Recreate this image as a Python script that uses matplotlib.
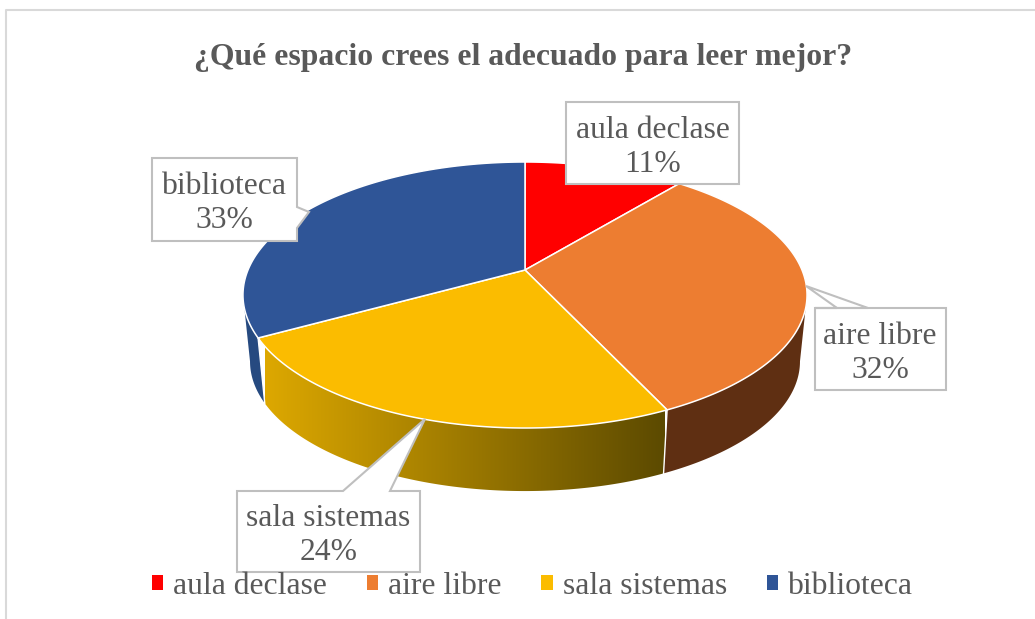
import numpy as np
import matplotlib
matplotlib.use("Agg")
import matplotlib.pyplot as plt
from matplotlib.patches import Patch, Polygon
from matplotlib.colors import LinearSegmentedColormap

plt.rcParams['font.family'] = ['Liberation Serif', 'DejaVu Serif']

categories = ["aula declase", "aire libre", "sala sistemas", "biblioteca"]
values = [11, 32, 24, 33]
title = "¿Qué espacio crees el adecuado para leer mejor?"
top_colors = ["#FF0000", "#ED7D31", "#FBBC00", "#2F5597"]
side_colors = ["#8B0000", "#5F2F12", None, "#264A80"]

TXT = "#595959"
BOX = "#BFBFBF"
FS = 22.8

fig = plt.figure(figsize=(10.35, 6.19), dpi=100)
ax = fig.add_axes([0, 0, 1, 1])
ax.axis("off")

# frame
ax.plot([6, 6, 1035], [619, 10, 10], color="#D9D9D9", lw=1.5, zorder=0)

# perspective projection of the pie
cx, cy, A, B, k = 525, 270, 277, 128.3, 0.188
def top_pt(t):
    X, Y = np.sin(t), np.cos(t)
    d = 1 + k * Y
    return cx + A * X / d, cy - B * Y / d

def bot_pt(t, s=0.975, d0=67):
    x, y = top_pt(t)
    return cx + s * (x - cx), cy + s * (y - cy) + d0

edges = np.cumsum([0] + values) / sum(values) * 2 * np.pi
grad = LinearSegmentedColormap.from_list("wall", ["#DDA800", "#5C4A00"])

# side wall: only the part between the two silhouette points is visible
t_right = np.arccos(-k)
t_left = 2 * np.pi - t_right
for i in range(len(values)):
    t0, t1 = max(edges[i], t_right), min(edges[i + 1], t_left)
    if t1 <= t0:
        continue
    ts = np.linspace(t0, t1, 200)
    xa, ya = top_pt(ts)
    xb, yb = bot_pt(ts)
    pts = np.column_stack([np.r_[xa, xb[::-1]], np.r_[ya, yb[::-1]]])
    if side_colors[i] is None:
        clip = Polygon(pts, closed=True, facecolor="none", edgecolor="none", transform=ax.transData)
        ax.add_patch(clip)
        im = ax.imshow(np.linspace(0, 1, 256).reshape(1, -1), cmap=grad, aspect="auto",
                       extent=(265, 665, 500, 330), zorder=1)
        im.set_clip_path(clip)
    else:
        ax.add_patch(Polygon(pts, closed=True, facecolor=side_colors[i], edgecolor="none", zorder=1))
    if edges[i] >= t_right:
        ax.plot([xa[0], xb[0]], [ya[0], yb[0]], color="white", lw=1.0, zorder=1.5)

# top face
for i in range(len(values)):
    ts = np.linspace(edges[i], edges[i + 1], 200)
    xs, ys = top_pt(ts)
    pts = np.column_stack([np.r_[cx, xs], np.r_[cy, ys]])
    ax.add_patch(Polygon(pts, closed=True, facecolor=top_colors[i], edgecolor="white", lw=1.1, zorder=2))

# callout labels
boxes = [
    ([(566, 102), (739, 102), (739, 184), (566, 184)], (652.5, 147.5)),
    ([(815, 308), (868, 308), (806, 286), (837, 308), (815, 308), (815, 390), (946, 390), (946, 308), (868, 308)], (880, 353.5)),
    ([(237, 491), (343, 491), (425, 419), (390, 491), (420, 491), (420, 572), (237, 572)], (328.5, 535.5)),
    ([(152, 158), (297, 158), (297, 207), (309, 212), (297, 228), (297, 241), (152, 241)], (224, 203.5)),
]
for i, (pts, c) in enumerate(boxes):
    ax.add_patch(Polygon(pts, closed=True, facecolor="white", edgecolor=BOX, lw=1.5, zorder=3))
    ax.text(c[0], c[1], f"{categories[i]}\n{values[i]}%", ha="center", va="center",
            fontsize=FS, color=TXT, linespacing=1.25, zorder=4)

ax.text(523.5, 57, title, ha="center", va="center", fontsize=22.85, fontweight="bold", color=TXT, zorder=4)

ax.set_xlim(0, 1035)
ax.set_ylim(619, 0)

handles = [Patch(facecolor=c, edgecolor="none") for c in top_colors]
leg = ax.legend(handles, categories, ncol=4, frameon=False, fontsize=FS, labelcolor=TXT,
                loc="center", bbox_to_anchor=(532.5 / 1035, 1 - 586 / 619),
                handlelength=0.36, handleheight=0.36, handletextpad=0.32, columnspacing=1.25,
                borderpad=0, borderaxespad=0)
leg.set_zorder(5)

fig.savefig("out.png", dpi=100)
